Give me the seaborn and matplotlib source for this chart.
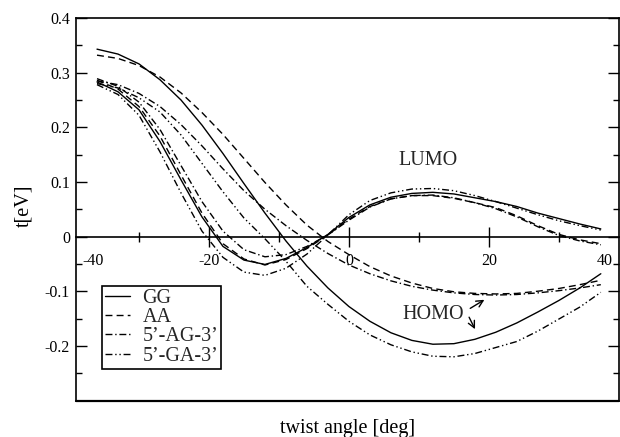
import matplotlib
matplotlib.use("Agg")
import matplotlib.pyplot as plt
import seaborn as sns

# twist angle grid [deg]
angles = [-36, -33, -30, -27, -24, -21, -18, -15, -12, -9, -6, -3, 0,
          3, 6, 9, 12, 15, 18, 21, 24, 27, 30, 33, 36]

# HOMO couplings t [eV]
gg_homo = [0.343, 0.334, 0.316, 0.287, 0.250, 0.204, 0.152, 0.097, 0.043, -0.008,
           -0.054, -0.094, -0.128, -0.155, -0.176, -0.190, -0.197, -0.196, -0.188,
           -0.175, -0.158, -0.138, -0.117, -0.094, -0.068]
aa_homo = [0.332, 0.326, 0.313, 0.292, 0.263, 0.227, 0.187, 0.143, 0.099, 0.058,
           0.021, -0.009, -0.033, -0.055, -0.072, -0.085, -0.095, -0.101, -0.104,
           -0.105, -0.104, -0.100, -0.095, -0.088, -0.080]
ag_homo = [0.285, 0.278, 0.262, 0.238, 0.205, 0.166, 0.124, 0.084, 0.050, 0.020,
           -0.007, -0.031, -0.052, -0.068, -0.081, -0.091, -0.098, -0.103, -0.106,
           -0.107, -0.106, -0.103, -0.099, -0.094, -0.088]
ga_homo = [0.280, 0.272, 0.254, 0.228, 0.186, 0.134, 0.082, 0.034, -0.004, -0.045,
           -0.091, -0.124, -0.155, -0.180, -0.198, -0.211, -0.219, -0.220, -0.214,
           -0.203, -0.192, -0.173, -0.151, -0.129, -0.102]

# LUMO couplings t [eV]
gg_lumo = [0.283, 0.265, 0.232, 0.174, 0.104, 0.036, -0.018, -0.043, -0.051, -0.040,
           -0.020, 0.004, 0.035, 0.058, 0.072, 0.079, 0.081, 0.078, 0.071,
           0.064, 0.055, 0.043, 0.033, 0.023, 0.014]
aa_lumo = [0.286, 0.270, 0.238, 0.184, 0.113, 0.043, -0.013, -0.041, -0.052, -0.042,
           -0.022, 0.003, 0.032, 0.055, 0.069, 0.075, 0.075, 0.070, 0.062,
           0.053, 0.038, 0.020, 0.004, -0.006, -0.013]
ag_lumo = [0.289, 0.275, 0.246, 0.196, 0.130, 0.064, 0.010, -0.024, -0.037, -0.033,
           -0.018, 0.003, 0.030, 0.054, 0.069, 0.075, 0.076, 0.071, 0.062,
           0.051, 0.036, 0.018, 0.002, -0.008, -0.015]
ga_lumo = [0.278, 0.260, 0.222, 0.155, 0.080, 0.010, -0.038, -0.065, -0.071, -0.058,
           -0.032, 0.003, 0.040, 0.066, 0.080, 0.087, 0.088, 0.084, 0.075,
           0.064, 0.052, 0.040, 0.029, 0.020, 0.012]

names = ["GG", "AA", "5\u2019-AG-3\u2019", "5\u2019-GA-3\u2019"]
homo = [gg_homo, aa_homo, ag_homo, ga_homo]
lumo = [gg_lumo, aa_lumo, ag_lumo, ga_lumo]
dash_styles = ["-", (0, (5, 3)), (0, (5, 2, 1, 2)), (0, (5, 2, 1, 2, 1, 2))]

x_ticks = [-36.6, -20, 0, 20, 36.6]
x_tick_labels = ["-40", "-20", "0", "20", "40"]
y_ticks = [-0.2, -0.1, 0, 0.1, 0.2, 0.3, 0.4]
y_tick_labels = ["-0.2", "-0.1", "0", "0.1", "0.2", "0.3", "0.4"]

sns.set_theme(style="ticks")
plt.rcParams["font.family"] = ["Liberation Serif", "DejaVu Serif"]
plt.rcParams["axes.unicode_minus"] = False

fig = plt.figure(figsize=(6.2, 4.37), dpi=100)
ax = fig.add_axes([0.1226, 0.0835, 0.8758, 0.8753])

handles = []
for name, h, l, ls in zip(names, homo, lumo, dash_styles):
    sns.lineplot(x=angles, y=h, ax=ax, color="black", lw=1.0, linestyle=ls,
                 sort=False, legend=False)
    handles.append(ax.lines[-1])
    sns.lineplot(x=angles, y=l, ax=ax, color="black", lw=1.0, linestyle=ls,
                 sort=False, legend=False)

ax.set_xlim(-39, 38.6)
ax.set_ylim(-0.3, 0.4)

# xmgrace-like zero axis carrying the x ticks
ax.spines["bottom"].set_position(("data", 0))
for side in ["left", "right", "top", "bottom"]:
    ax.spines[side].set_linewidth(1.2)
    ax.spines[side].set_color("black")
ax.plot([0, 1], [0, 0], transform=ax.transAxes, color="black", lw=1.6, clip_on=False)

ax.set_xticks(x_ticks, labels=x_tick_labels)
ax.set_xticks([-30, -10, 10, 30], minor=True)
for t in (ax.xaxis.get_major_ticks()[0], ax.xaxis.get_major_ticks()[-1]):
    t.tick1line.set_visible(False)
ax.set_yticks(y_ticks, labels=y_tick_labels)
ax.set_yticks([-0.25, -0.15, -0.05, 0.05, 0.15, 0.25, 0.35], minor=True)

ax.tick_params(axis="x", which="both", direction="inout", top=False, width=1.0,
               labelsize=11.5, pad=4.5, colors="black")
ax.tick_params(axis="x", which="major", length=14)
ax.tick_params(axis="x", which="minor", length=7)
ax.tick_params(axis="y", which="both", direction="in", left=True, right=True,
               width=1.0, labelsize=11.5, pad=4.3, colors="black")
ax.tick_params(axis="y", which="major", length=8)
ax.tick_params(axis="y", which="minor", length=4)

ax.set_xlabel("twist angle [deg]", fontsize=14.5, color="black")
ax.xaxis.set_label_coords(0.5, -0.048)
ax.set_ylabel("t[eV]", fontsize=14.5, color="black")
ax.yaxis.set_label_coords(-0.078, 0.508)

ax.text(11.3, 0.140, "LUMO", ha="center", va="center", fontsize=14.5)
ax.text(12.1, -0.143, "HOMO", ha="center", va="center", fontsize=14.5)
ax.annotate("", xy=(19.7, -0.113), xytext=(17.0, -0.134),
            arrowprops=dict(arrowstyle="->", lw=1.0, color="black"))
ax.annotate("", xy=(18.2, -0.174), xytext=(17.0, -0.143),
            arrowprops=dict(arrowstyle="->", lw=1.0, color="black"))

leg = ax.legend(handles, names, loc="upper left", bbox_to_anchor=(0.048, 0.299),
                borderaxespad=0, fontsize=14.5, frameon=True, fancybox=False,
                edgecolor="black", framealpha=1, handlelength=1.25,
                handletextpad=0.6, borderpad=0.15, labelspacing=0.0)
leg.get_frame().set_linewidth(1.2)

fig.savefig("out.png", dpi=100)
